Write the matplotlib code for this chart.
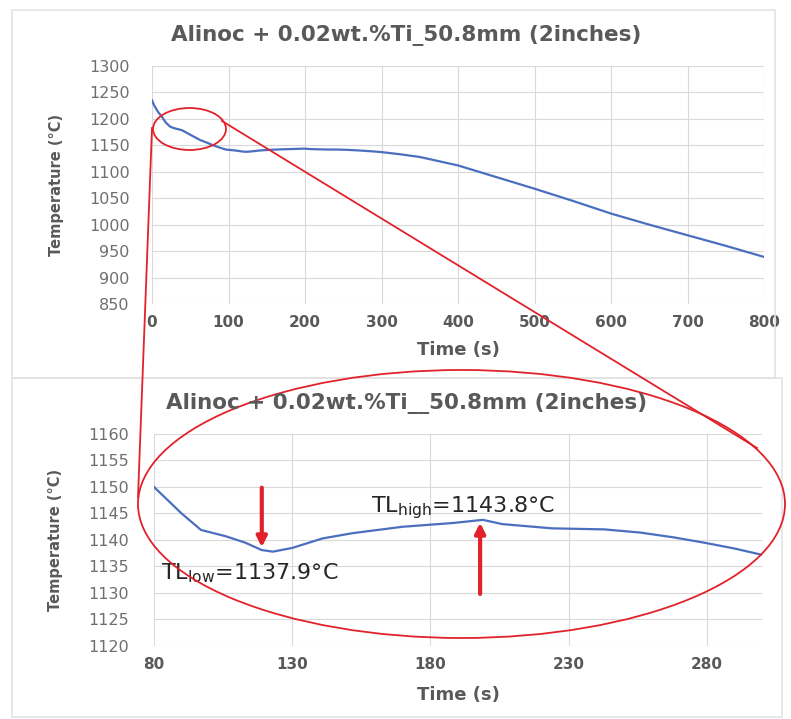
import matplotlib
matplotlib.use("Agg")
import matplotlib.pyplot as plt
from matplotlib.patches import Ellipse, Rectangle
from matplotlib.lines import Line2D

# ---------------- data ----------------
time_s = [0, 3, 8, 13, 18, 24, 30, 39, 50, 63, 72, 80, 90, 97, 106, 113, 119, 123,
          130, 141, 152, 170, 188, 199, 206, 224, 243, 256, 268, 279, 290, 300,
          325, 350, 375, 400, 450, 500, 550, 600, 650, 700, 750, 800]
temp_c = [1235, 1225, 1213, 1204, 1193, 1185, 1182, 1178.7, 1170, 1160, 1155, 1150,
          1145, 1141.9, 1140.7, 1139.5, 1138.1, 1137.8, 1138.5, 1140.3, 1141.3,
          1142.5, 1143.2, 1143.8, 1143.0, 1142.2, 1142.0, 1141.4, 1140.5, 1139.5,
          1138.4, 1137.2, 1133, 1128, 1120, 1112, 1090, 1068, 1045, 1021, 1000,
          980, 960, 939]

top_title = "Alinoc + 0.02wt.%Ti_50.8mm (2inches)"
bottom_title = "Alinoc + 0.02wt.%Ti__50.8mm (2inches)"
top_xticks = [0, 100, 200, 300, 400, 500, 600, 700, 800]
top_yticks = [850, 900, 950, 1000, 1050, 1100, 1150, 1200, 1250, 1300]
bot_xticks = [80, 130, 180, 230, 280]
bot_yticks = [1120, 1125, 1130, 1135, 1140, 1145, 1150, 1155, 1160]

tl_low_time, tl_low = 119, 1137.9
tl_high_time, tl_high = 198, 1143.8

# ---------------- style ----------------
W, H = 791, 719
fig = plt.figure(figsize=(W / 100, H / 100), dpi=100)
fig.patch.set_facecolor("white")

LINE = "#4a6fbf"
GRID = "#d9d9d9"
TXT = "#595959"
RED = "#e2222b"


def px(x, y):
    return x / W, 1 - y / H


def style_axes(ax, ypad):
    for s in ax.spines.values():
        s.set_visible(False)
    ax.grid(True, color=GRID, linewidth=0.8)
    ax.set_axisbelow(True)
    ax.tick_params(axis="x", length=0, pad=8)
    ax.tick_params(axis="y", length=0, pad=ypad)
    for lab in ax.get_xticklabels():
        lab.set_fontweight("bold")
        lab.set_color(TXT)
        lab.set_fontsize(11)
    for lab in ax.get_yticklabels():
        lab.set_color("#6f6f6f")
        lab.set_fontsize(11.5)


# chart frames
fig.add_artist(Rectangle(px(12, 378), 763 / W, 368 / H, transform=fig.transFigure,
                         fill=False, edgecolor="#e3e3e3", linewidth=1.2))
fig.add_artist(Rectangle(px(12, 717), 770 / W, 339 / H, transform=fig.transFigure,
                         fill=False, edgecolor="#e3e3e3", linewidth=1.2))

# ---------------- top chart ----------------
ax1 = fig.add_axes([152 / W, 1 - 304 / H, 612 / W, 238 / H])
ax1.plot(time_s, temp_c, color=LINE, linewidth=1.6)
ax1.set_xlim(0, 800)
ax1.set_ylim(850, 1300)
ax1.set_xticks(top_xticks)
ax1.set_yticks(top_yticks)
style_axes(ax1, 16)
ax1.set_xlabel("Time (s)", fontsize=13, fontweight="bold", color=TXT, labelpad=8)
ax1.set_ylabel("Temperature (°C)", fontsize=10.5, fontweight="bold", color=TXT, labelpad=18)
fig.text(*px(406, 36), top_title, ha="center", va="center", fontsize=15.5,
         fontweight="bold", color=TXT)

# ---------------- bottom chart ----------------
ax2 = fig.add_axes([154 / W, 1 - 646 / H, 608 / W, 212 / H])
ax2.plot(time_s, temp_c, color=LINE, linewidth=1.6)
ax2.set_xlim(80, 300)
ax2.set_ylim(1120, 1160)
ax2.set_xticks(bot_xticks)
ax2.set_yticks(bot_yticks)
style_axes(ax2, 18)
ax2.set_xlabel("Time (s)", fontsize=13, fontweight="bold", color=TXT, labelpad=10)
ax2.set_ylabel("Temperature (°C)", fontsize=10.5, fontweight="bold", color=TXT, labelpad=18)
fig.text(*px(407, 403), bottom_title, ha="center", va="center", fontsize=15.5,
         fontweight="bold", color=TXT)

# arrows and TL labels
ax2.annotate("", xy=(tl_low_time, tl_low + 0.2), xytext=(tl_low_time, 1150.4),
             arrowprops=dict(arrowstyle="-|>,head_width=0.3,head_length=0.6",
                             color=RED, linewidth=3))
ax2.annotate("", xy=(tl_high_time, tl_high), xytext=(tl_high_time, 1129.3),
             arrowprops=dict(arrowstyle="-|>,head_width=0.3,head_length=0.6",
                             color=RED, linewidth=3))
ax2.text(82.5, 1133.8, r"TL$_{\mathregular{low}}$=" + f"{tl_low}°C", fontsize=16,
         color="#262626", va="center", ha="left")
ax2.text(158.5, 1146.2, r"TL$_{\mathregular{high}}$=" + f"{tl_high}°C", fontsize=16,
         color="#262626", va="center", ha="left")

# ---------------- zoom annotation ----------------
fig.add_artist(Ellipse(px(189.5, 129), 73 / W, 42 / H, transform=fig.transFigure,
                       fill=False, edgecolor=RED, linewidth=1.3))
fig.add_artist(Ellipse(px(461.5, 504), 647 / W, 268 / H, transform=fig.transFigure,
                       fill=False, edgecolor=RED, linewidth=1.3))
x0, y0 = px(152, 128)
x1, y1 = px(138, 497)
fig.add_artist(Line2D([x0, x1], [y0, y1], transform=fig.transFigure, color=RED, linewidth=1.3))
x0, y0 = px(222, 121)
x1, y1 = px(757, 448)
fig.add_artist(Line2D([x0, x1], [y0, y1], transform=fig.transFigure, color=RED, linewidth=1.3))

fig.savefig("out.png", dpi=100)
